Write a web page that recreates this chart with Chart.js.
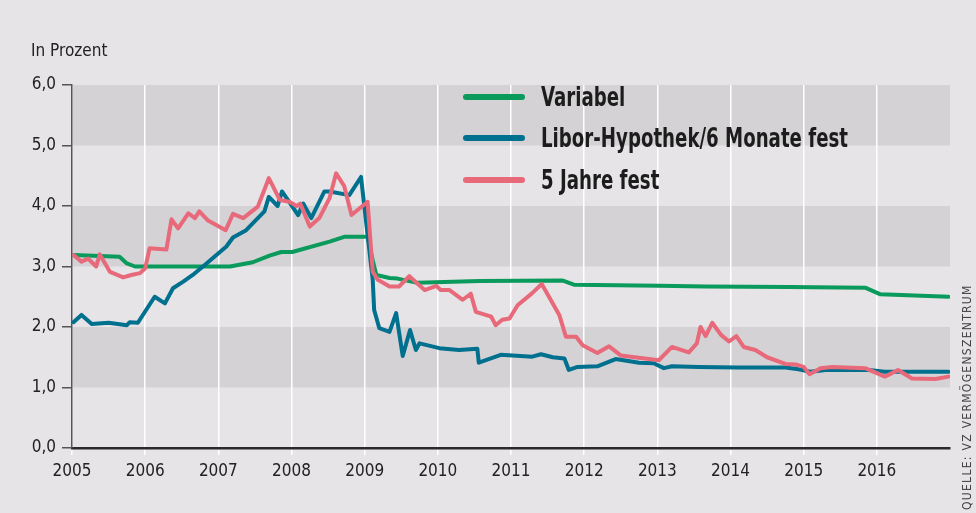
<!DOCTYPE html>
<html>
<head>
<meta charset="utf-8">
<script src="https://cdn.jsdelivr.net/npm/chart.js@4.4.1/dist/chart.umd.min.js"></script>
<style>
  html, body { margin: 0; padding: 0; background: #e6e4e6; }
  #wrap { position: relative; width: 976px; height: 513px; overflow: hidden; background: #e6e4e6; }
  canvas { position: absolute; left: 0; top: 0; }
  .cond { font-family: 'Liberation Sans Narrow', 'DejaVu Sans Condensed', 'Roboto Condensed', sans-serif; }
  #unit { position: absolute; left: 31px; top: 40px; font-size: 17px; color: #222; }
  #legend { position: absolute; left: 463px; top: 76px; }
  .row { display: flex; align-items: center; height: 41.5px; }
  .swatch { width: 62px; height: 6px; border-radius: 3px; margin-right: 16px; flex: none; }
  .lab { font-size: 26px; font-weight: bold; color: #1c1c1c; white-space: nowrap; transform-origin: 0 50%; display: inline-block; }
  #source { position: absolute; left: 960px; top: 510px; transform-origin: 0 0; transform: rotate(-90deg);
            font-family: 'DejaVu Sans Condensed', 'Liberation Sans Narrow', sans-serif; font-size: 12px; letter-spacing: 1.3px; color: #444; white-space: nowrap; }
</style>
</head>
<body>
<div id="wrap">
  <canvas id="c" width="976" height="513"></canvas>
  <div id="unit" class="cond">In Prozent</div>
  <div id="legend" class="cond"></div>
  <div id="source">QUELLE: VZ VERMÖGENSZENTRUM</div>
</div>
<script>
// ---- Data (decimal years, percent) ----
const seriesLabels = ['Variabel', 'Libor-Hypothek/6 Monate fest', '5 Jahre fest'];
const seriesColors = ['#0a9a5c', '#00708f', '#e8697a'];

const variabelYears = [2005.02, 2005.65, 2005.75, 2005.86, 2007.16, 2007.47, 2007.70, 2007.86, 2008.01, 2008.52, 2008.72, 2009.04, 2009.11, 2009.16, 2009.34, 2009.45, 2009.72, 2010.57, 2011.70, 2011.86, 2013.02, 2013.66, 2014.80, 2015.84, 2016.05, 2016.98];
const variabelValues = [3.19, 3.16, 3.05, 3.00, 3.00, 3.07, 3.18, 3.24, 3.24, 3.41, 3.49, 3.49, 3.10, 2.86, 2.81, 2.80, 2.73, 2.76, 2.77, 2.70, 2.68, 2.67, 2.66, 2.65, 2.54, 2.50];

const liborYears = [2005.02, 2005.13, 2005.27, 2005.50, 2005.75, 2005.79, 2005.90, 2006.13, 2006.27, 2006.38, 2006.52, 2006.65, 2006.79, 2007.11, 2007.20, 2007.38, 2007.63, 2007.69, 2007.81, 2007.87, 2007.95, 2008.09, 2008.16, 2008.27, 2008.45, 2008.52, 2008.79, 2008.95, 2009.11, 2009.13, 2009.20, 2009.34, 2009.43, 2009.52, 2009.62, 2009.70, 2009.75, 2010.02, 2010.29, 2010.54, 2010.56, 2010.86, 2011.29, 2011.41, 2011.57, 2011.73, 2011.79, 2011.91, 2012.18, 2012.43, 2012.75, 2012.95, 2013.09, 2013.20, 2013.56, 2014.11, 2014.75, 2014.93, 2015.09, 2015.30, 2015.89, 2016.11, 2016.98];
const liborValues = [2.08, 2.20, 2.05, 2.07, 2.03, 2.08, 2.07, 2.50, 2.39, 2.64, 2.75, 2.86, 3.00, 3.33, 3.48, 3.60, 3.91, 4.15, 4.00, 4.24, 4.10, 3.85, 4.04, 3.80, 4.24, 4.24, 4.18, 4.48, 2.78, 2.28, 1.98, 1.92, 2.23, 1.52, 1.95, 1.62, 1.73, 1.65, 1.62, 1.64, 1.41, 1.54, 1.51, 1.55, 1.50, 1.48, 1.29, 1.34, 1.35, 1.47, 1.41, 1.40, 1.32, 1.35, 1.34, 1.33, 1.33, 1.30, 1.26, 1.29, 1.29, 1.26, 1.26];

const fixYears = [2005.02, 2005.13, 2005.22, 2005.33, 2005.38, 2005.52, 2005.70, 2005.81, 2005.93, 2006.00, 2006.06, 2006.29, 2006.36, 2006.45, 2006.59, 2006.68, 2006.74, 2006.86, 2007.10, 2007.20, 2007.34, 2007.54, 2007.69, 2007.84, 2007.97, 2008.07, 2008.12, 2008.25, 2008.38, 2008.52, 2008.61, 2008.72, 2008.82, 2009.04, 2009.11, 2009.18, 2009.34, 2009.47, 2009.61, 2009.82, 2009.98, 2010.04, 2010.16, 2010.34, 2010.45, 2010.52, 2010.73, 2010.79, 2010.88, 2010.98, 2011.09, 2011.29, 2011.42, 2011.66, 2011.75, 2011.89, 2011.98, 2012.18, 2012.34, 2012.50, 2013.02, 2013.20, 2013.43, 2013.54, 2013.59, 2013.66, 2013.75, 2013.87, 2013.98, 2014.08, 2014.18, 2014.34, 2014.50, 2014.75, 2014.89, 2015.00, 2015.08, 2015.23, 2015.39, 2015.84, 2016.11, 2016.29, 2016.48, 2016.80, 2016.98];
const fixValues = [3.19, 3.08, 3.13, 3.00, 3.20, 2.91, 2.82, 2.86, 2.89, 2.97, 3.30, 3.28, 3.78, 3.63, 3.88, 3.80, 3.91, 3.76, 3.60, 3.87, 3.80, 3.99, 4.46, 4.10, 4.07, 4.00, 4.04, 3.66, 3.80, 4.13, 4.54, 4.33, 3.85, 4.07, 2.91, 2.78, 2.67, 2.67, 2.84, 2.61, 2.68, 2.61, 2.61, 2.45, 2.55, 2.25, 2.17, 2.03, 2.12, 2.14, 2.36, 2.56, 2.71, 2.20, 1.84, 1.84, 1.70, 1.57, 1.68, 1.53, 1.45, 1.67, 1.58, 1.73, 2.00, 1.85, 2.07, 1.87, 1.76, 1.85, 1.67, 1.62, 1.50, 1.39, 1.38, 1.34, 1.22, 1.32, 1.34, 1.32, 1.18, 1.29, 1.15, 1.14, 1.18];

const yearTicks = [2005, 2006, 2007, 2008, 2009, 2010, 2011, 2012, 2013, 2014, 2015, 2016];
const darkBands = [[1, 2], [3, 4], [5, 6]];

const FONT = "'Liberation Sans Narrow', 'DejaVu Sans Condensed', 'Roboto Condensed', sans-serif";

function pts(xs, ys) { return xs.map((x, i) => ({ x: x, y: ys[i] })); }

// legend (HTML)
const legend = document.getElementById('legend');
const labEls = [];
seriesLabels.forEach((l, i) => {
  const r = document.createElement('div'); r.className = 'row';
  const s = document.createElement('div'); s.className = 'swatch'; s.style.background = seriesColors[i];
  const t = document.createElement('span'); t.className = 'lab'; t.textContent = l;
  r.appendChild(s); r.appendChild(t); legend.appendChild(r); labEls.push(t);
});
// condense legend text so the longest label spans the reference width
const widest = Math.max(...labEls.map(e => e.getBoundingClientRect().width));
const sx = Math.min(1, 307 / widest);
labEls.forEach(e => { e.style.transform = 'scaleX(' + sx + ')'; });

const bandPlugin = {
  id: 'bands',
  beforeDraw(chart) {
    const { ctx, chartArea, scales } = chart;
    ctx.save();
    ctx.fillStyle = '#d4d2d4';
    darkBands.forEach(([a, b]) => {
      const y1 = scales.y.getPixelForValue(b), y2 = scales.y.getPixelForValue(a);
      ctx.fillRect(chartArea.left, y1, chartArea.right - chartArea.left, y2 - y1);
    });
    ctx.restore();
  }
};

const mk = (i, xs, ys, order) => ({
  label: seriesLabels[i], data: pts(xs, ys), borderColor: seriesColors[i],
  borderWidth: 4, pointRadius: 0, tension: 0, order: order,
  borderJoinStyle: 'round', borderCapStyle: 'round', fill: false
});

new Chart(document.getElementById('c'), {
  type: 'line',
  data: { datasets: [ mk(0, variabelYears, variabelValues, 2), mk(1, liborYears, liborValues, 1), mk(2, fixYears, fixValues, 0) ] },
  options: {
    responsive: false, animation: false,
    layout: { padding: { left: 0, top: 85, right: 26, bottom: 0 } },
    plugins: { legend: { display: false }, tooltip: { enabled: false } },
    scales: {
      x: {
        type: 'linear', min: 2005, max: 2017,
        afterBuildTicks(s) { s.ticks = yearTicks.map(v => ({ value: v })); },
        afterFit(s) { s.height = 65; },
        ticks: { color: '#222', font: { family: FONT, size: 17 }, padding: 6, maxRotation: 0,
                 callback: v => String(v) },
        grid: { color: '#ffffff', lineWidth: 1.5, tickLength: 7, drawOnChartArea: true },
        border: { display: true, color: '#2a2a2a', width: 2.5 }
      },
      y: {
        min: 0, max: 6,
        afterFit(s) { s.width = 72; },
        ticks: { stepSize: 1, color: '#222', font: { family: FONT, size: 17 }, padding: 6,
                 callback: v => v.toFixed(1).replace('.', ',') },
        grid: { drawOnChartArea: false, color: '#555', lineWidth: 1.5, tickLength: 10 },
        border: { display: true, color: '#555', width: 1.5 }
      }
    }
  },
  plugins: [bandPlugin]
});
</script>
</body>
</html>
